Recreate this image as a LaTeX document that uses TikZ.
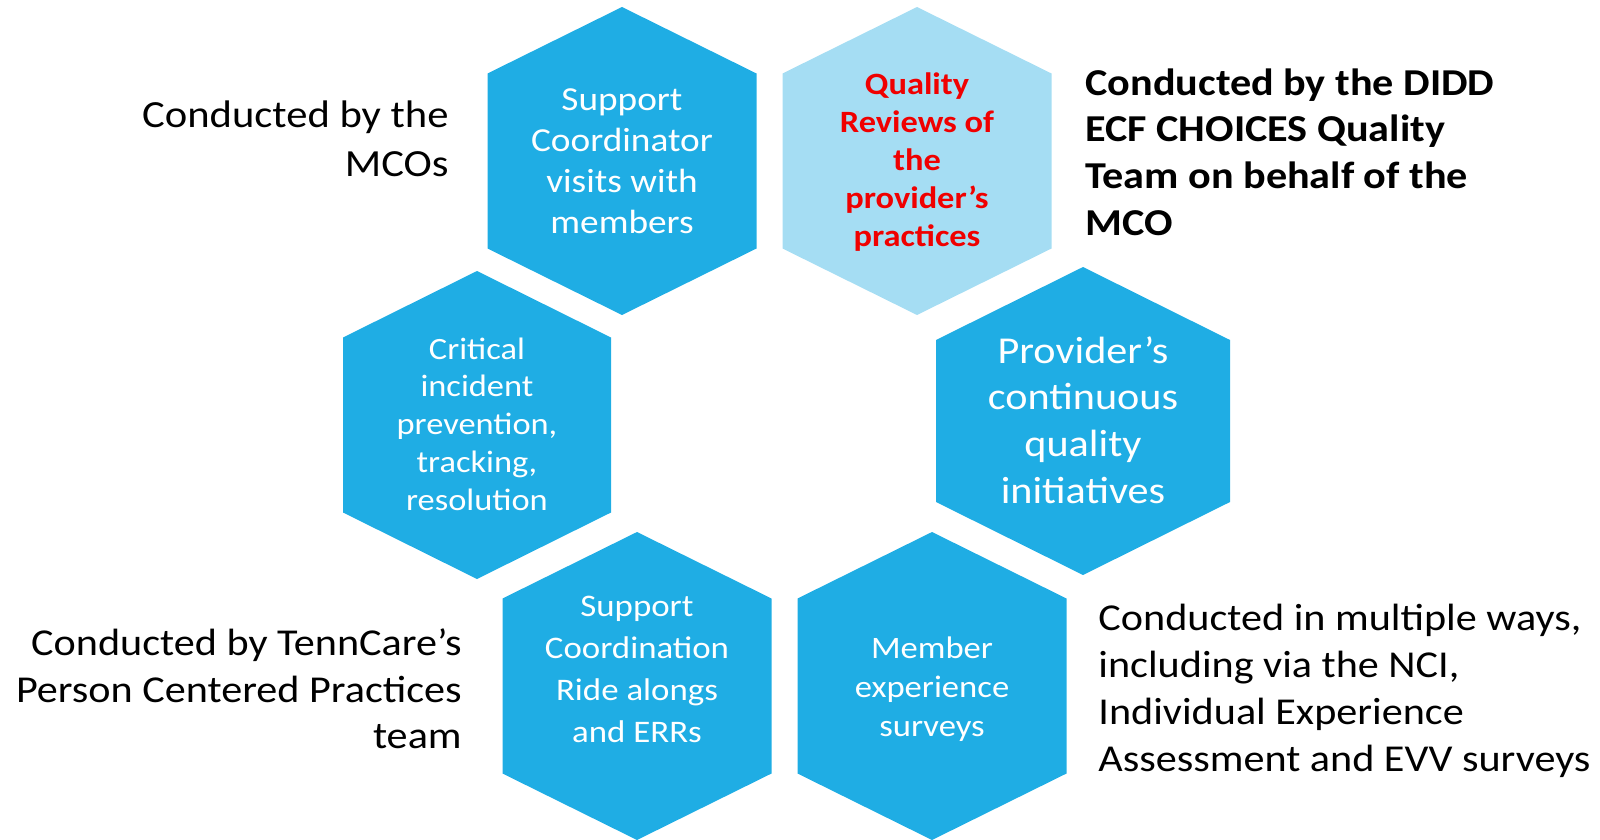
\documentclass[tikz,border=0pt]{standalone}
\usepackage{fontspec}
\setmainfont{Carlito}[FakeStretch=1.11]
\definecolor{hexblue}{RGB}{31,173,228}
\definecolor{hexlight}{RGB}{165,221,243}
\definecolor{hexred}{RGB}{240,0,0}
\newcommand\drawhex[5]{% cx cy halfwidth sidehalf colour
  \fill[#5] ({#1-#3},{#2-#4}) -- (#1,{#2-154}) -- ({#1+#3},{#2-#4}) -- ({#1+#3},{#2+#4}) -- (#1,{#2+154}) -- ({#1-#3},{#2+#4}) -- cycle;}
\tikzset{
  hextext/.style={align=center, text=white, inner sep=0pt},
  sidetext/.style={inner sep=0pt, text=black}
}
\begin{document}
\begin{tikzpicture}[x=0.5pt,y=-0.5pt]
\useasboundingbox (0,0) rectangle (1600,840);
\drawhex{622}{161}{134.5}{87.5}{hexblue}
\drawhex{917}{161}{134.5}{87.5}{hexlight}
\drawhex{477}{425}{134}{87.5}{hexblue}
\drawhex{1083}{421}{147}{81}{hexblue}
\drawhex{637}{686}{134.5}{87.5}{hexblue}
\drawhex{932}{686}{134.5}{87.5}{hexblue}

\node[hextext, font=\fontsize{16.8}{20.5}\selectfont] (h1) at (622,161) {Support\\Coordinator\\visits with\\members};
\node[hextext, text=hexred, font=\bfseries\fontsize{15.5}{18.9}\selectfont] (h2) at (917,162) {Quality\\Reviews of\\the\\provider’s\\practices};
\node[hextext, font=\fontsize{15.5}{18.9}\selectfont] (h3) at (477,424) {Critical\\incident\\prevention,\\tracking,\\resolution};
\node[hextext, font=\fontsize{19}{23.3}\selectfont] (h4) at (1083,420) {Provider’s\\continuous\\quality\\initiatives};
\node[hextext, font=\fontsize{15.7}{21}\selectfont] (h5) at (637,669) {Support\\Coordination\\Ride alongs\\and ERRs};
\node[hextext, font=\fontsize{15.6}{19.4}\selectfont] (h6) at (932,689) {Member\\experience\\surveys};

\node[sidetext, anchor=east, align=right, font=\fontsize{19.2}{24.5}\selectfont] (t1) at (449,139) {Conducted by the\\MCOs};
\node[sidetext, anchor=west, align=left, font=\bfseries\fontsize{19}{23.3}\selectfont] (t2) at (1085,152) {Conducted by the DIDD\\ECF CHOICES Quality\\Team on behalf of the\\MCO};
\node[sidetext, anchor=east, align=right, font=\fontsize{19}{23.2}\selectfont] (t3) at (462,689) {Conducted by TennCare’s\\Person Centered Practices\\team};
\node[sidetext, anchor=west, align=left, font=\fontsize{19}{23.5}\selectfont] (t4) at (1098,691) {Conducted in multiple ways,\\including via the NCI,\\Individual Experience\\Assessment and EVV surveys};
\end{tikzpicture}
\end{document}
